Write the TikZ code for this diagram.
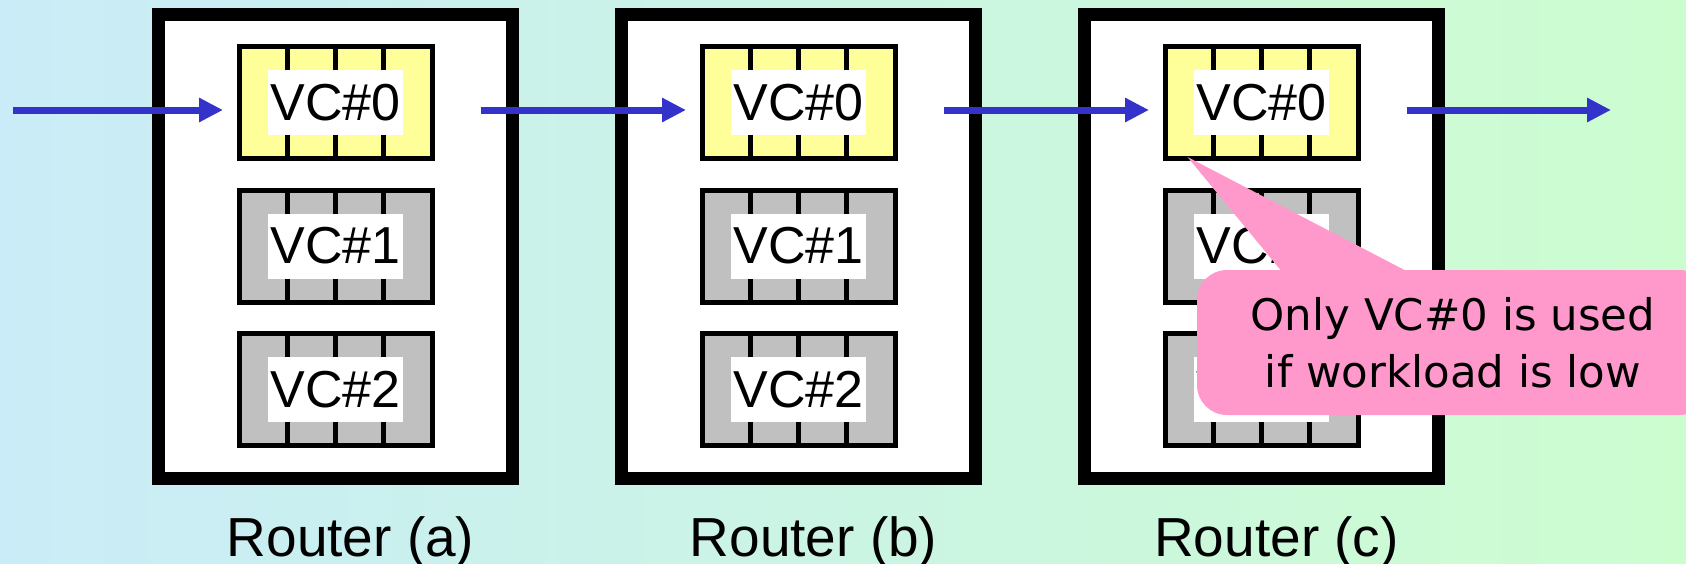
\documentclass[tikz,border=0pt]{standalone}
\usepackage{fontspec}
\setmainfont{Liberation Sans}
\newfontfamily\notefont{DejaVu Sans}
\usetikzlibrary{calc,arrows.meta,positioning}
\definecolor{bgleft}{HTML}{CAECF8}
\definecolor{bgright}{HTML}{CCFDCF}
\definecolor{vcyellow}{HTML}{FFFF99}
\definecolor{vcgray}{HTML}{C0C0C0}
\definecolor{notepink}{HTML}{FF99CC}
\definecolor{flowblue}{HTML}{3333CC}
\tikzset{
	routerbox/.style={draw=black,line width=13pt,fill=white,minimum width=354pt,minimum height=464pt,inner sep=0pt},
	vcbox/.style={draw=black,line width=5pt,minimum width=193pt,minimum height=112pt,inner sep=0pt},
	vclabel/.style={fill=white,font=\fontsize{52}{60}\selectfont,minimum width=135pt,minimum height=65pt,inner sep=0pt},
	rlabel/.style={anchor=base,font=\fontsize{55}{66}\selectfont,inner sep=0pt},
	flow/.style={flowblue,line width=7pt,-{Triangle[length=24pt,width=23pt]}},
	note/.style={fill=notepink,rounded corners=30pt,minimum width=512pt,minimum height=145pt,
		align=center,font=\notefont\fontsize{43.5}{57}\selectfont}
}

\begin{document}
\begin{tikzpicture}[x=1pt,y=-1pt]
	\useasboundingbox (0,0) rectangle (1686,563);
	\clip (0,0) rectangle (1686,563);
	\shade[left color=bgleft,right color=bgright] (0,0) rectangle (1686,563);
	\foreach \r/\x in {a/335.5,b/798.5,c/1261.5} {
		\node[routerbox] (r\r) at (\x,246) {};
		\node[rlabel] (n\r) at (\x+15,556) {Router (\r)};
		\foreach \k/\y/\c in {0/102.5/vcyellow,1/246/vcgray,2/389.5/vcgray} {
			\node[vcbox,fill=\c] (v\r\k) at (\x,\y) {};
			\foreach \d in {-1,0,1}
				\draw[line width=5pt] ([xshift=\d*48.25pt]v\r\k.north) -- ([xshift=\d*48.25pt]v\r\k.south);
			\node[vclabel] (l\r\k) at (v\r\k) {VC\#\k};
		}
	}
	\coordinate (in) at (13,110);
	\coordinate (out) at (1611,110);
	\draw[flow] (in) -- ([shift={(-13.5,7.5)}]va0.west);
	\draw[flow] ([shift={(46,7.5)}]va0.east) -- ([shift={(-13.5,7.5)}]vb0.west);
	\draw[flow] ([shift={(46,7.5)}]vb0.east) -- ([shift={(-13.5,7.5)}]vc0.west);
	\draw[flow] ([shift={(46,7.5)}]vc0.east) -- (out);
	\node[note] (tip) at (1453,342.5) {Only VC\#0 is used\\if workload is low};
	\fill[notepink] ([shift={(25,-4)}]vc0.south west) -- ([shift={(86,3)}]tip.north west) -- ([shift={(213,3)}]tip.north west) -- cycle;
\end{tikzpicture}
\end{document}
